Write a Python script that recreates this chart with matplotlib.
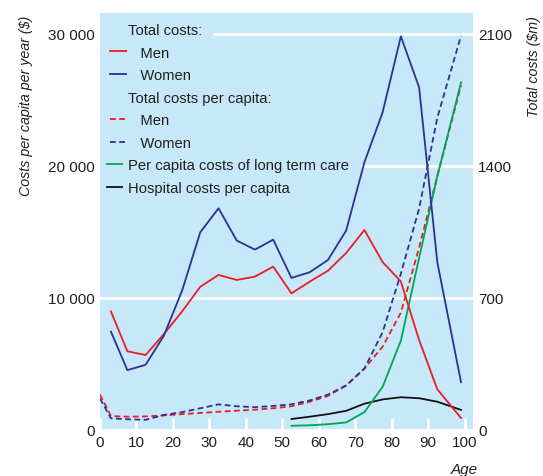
import matplotlib
matplotlib.use("Agg")
import matplotlib.pyplot as plt
from matplotlib.lines import Line2D
from matplotlib.legend_handler import HandlerLine2D
from matplotlib.path import Path
import matplotlib.patheffects as pe
import numpy as np

plt.rcParams['font.family'] = ['Liberation Sans', 'DejaVu Sans']

# ---------------- data ----------------
ages_total = [3, 7.5, 12.5, 17.5, 22.5, 27.5, 32.5, 37.5, 42.5, 47.5,
              52.5, 57.5, 62.5, 67.5, 72.5, 77.5, 82.5, 87.5, 92.5, 99]
# total costs ($m)
men_total = [627, 416, 396, 507, 627, 758, 821, 794, 812, 865,
             723, 785, 843, 937, 1059, 889, 786, 476, 214, 62]
women_total = [520, 316, 344, 498, 737, 1047, 1174, 1003, 955, 1008,
               805, 835, 900, 1056, 1418, 1683, 2086, 1816, 888, 252]

ages_pc = [0, 3, 7.5, 12.5, 17.5, 22.5, 27.5, 32.5, 37.5, 42.5, 47.5,
           52.5, 57.5, 62.5, 67.5, 72.5, 77.5, 82.5, 87.5, 92.5, 99]
# total costs per capita ($ per year)
men_pc = [2660, 1030, 985, 1005, 1085, 1180, 1270, 1360, 1440, 1515, 1625,
          1775, 2120, 2560, 3350, 4630, 6300, 8870, 13790, 19210, 26100]
women_pc = [2360, 865, 790, 750, 1115, 1330, 1625, 1920, 1775, 1705, 1800,
            1920, 2215, 2660, 3350, 4630, 7390, 11820, 16750, 23640, 29850]

ages_old = [52.5, 57.5, 62.5, 67.5, 72.5, 77.5, 82.5, 87.5, 92.5, 99]
ltc_pc = [295, 335, 415, 550, 1330, 3250, 6750, 13000, 19210, 26300]
hosp_pc = [810, 985, 1180, 1430, 1970, 2295, 2460, 2385, 2120, 1500]

x_ticks = [0, 10, 20, 30, 40, 50, 60, 70, 80, 90, 100]
left_ticks = [0, 10000, 20000, 30000]
left_labels = ['0', '10 000', '20 000', '30 000']
right_ticks = [0, 700, 1400, 2100]
right_labels = ['0', '700', '1400', '2100']

# ---------------- style ----------------
BG = '#c6e8f8'
RED = '#ec1c24'
NAVY = '#2e3192'
GREEN = '#00a651'
BLACK = '#111111'
TXT = '#231f20'
FS = 11
LFS = 10.6
LW = 1.3
DASH = (0, (3.2, 1.9))

W, H = 543, 477
fig = plt.figure(figsize=(W / 100, H / 100), dpi=100)
L, R, T, B = 100, 472.7, 14, 430.7
ax = fig.add_axes([L / W, 1 - B / H, (R - L) / W, (B - T) / H])
ax.set_facecolor(BG)
YMAX = 31570
ax.set_xlim(0, 102.2)
ax.set_ylim(0, YMAX)
for s in ax.spines.values():
    s.set_visible(False)
ax.set_axisbelow(True)
ax.yaxis.grid(True, color='white', lw=2)
ax.set_xticks(x_ticks)
ax.set_xticklabels([str(v) for v in x_ticks])
ax.tick_params(axis='x', direction='in', length=9, width=2, color='white',
               pad=4, labelsize=FS, labelcolor=TXT)
ax.set_yticks(left_ticks)
ax.set_yticklabels(left_labels)
ax.tick_params(axis='y', length=0, pad=4, labelsize=FS, labelcolor=TXT)

ax2 = ax.twinx()
ax2.set_ylim(0, YMAX * 0.07)
ax2.patch.set_visible(False)
for s in ax2.spines.values():
    s.set_visible(False)
ax2.set_yticks(right_ticks)
ax2.set_yticklabels(right_labels)
ax2.tick_params(axis='y', length=0, pad=4, labelsize=FS, labelcolor=TXT)

# per capita lines (left axis)
ax.plot(ages_pc, men_pc, color=RED, lw=LW, ls=DASH)
ax.plot(ages_pc, women_pc, color=NAVY, lw=LW, ls=DASH)
ax.plot(ages_old, hosp_pc, color=BLACK, lw=LW)
ax.plot(ages_old, ltc_pc, color=GREEN, lw=LW)
# total costs (right axis)
ax2.plot(ages_total, men_total, color=RED, lw=LW)
ax2.plot(ages_total, women_total, color=NAVY, lw=LW)

# axis labels
ax.set_ylabel('Costs per capita per year ($)', style='italic', fontsize=10.3, color=TXT)
ax.yaxis.set_label_coords(-0.18, 0.78)
ax2.set_ylabel('Total costs ($m)', style='italic', fontsize=10.3, color=TXT)
ax2.yaxis.set_label_coords(1.1465, 0.875)
ax.set_xlabel('Age', style='italic', fontsize=FS, color=TXT)
ax.xaxis.set_label_coords(0.977, -0.077)


# ---------------- legend ----------------
class LongHandle(HandlerLine2D):
    def create_artists(self, legend, orig_handle, xdescent, ydescent,
                       width, height, fontsize, trans):
        arts = super().create_artists(legend, orig_handle, xdescent, ydescent,
                                      width, height, fontsize, trans)
        for a in arts:
            x0 = -xdescent + 2.2
            yd = a.get_ydata()
            a.set_data([x0, x0 + 18], [yd[0], yd[0]])
        return arts


def make_box(lpad, rpad, tpad, bpad):
    def box(x0, y0, width, height, mutation_size):
        xa, xb = x0 - lpad, x0 + width + rpad
        ya, yb = y0 - bpad, y0 + height + tpad
        return Path([(xa, ya), (xb, ya), (xb, yb), (xa, yb), (xa, ya)],
                    [Path.MOVETO, Path.LINETO, Path.LINETO, Path.LINETO, Path.CLOSEPOLY])
    return box


cover = [pe.Stroke(linewidth=10, foreground=BG, capstyle='projecting'), pe.Normal()]
h_head1 = Line2D([], [], color='none')
h_men = Line2D([], [], color=RED, lw=LW)
h_women = Line2D([], [], color=NAVY, lw=LW)
h_head2 = Line2D([], [], color='none')
h_men_pc = Line2D([], [], color=RED, lw=LW, ls=DASH)
h_women_pc = Line2D([], [], color=NAVY, lw=LW, ls=DASH)
h_ltc = Line2D([], [], color=GREEN, lw=LW, path_effects=cover)
h_hosp = Line2D([], [], color=BLACK, lw=LW, path_effects=cover)

handles = [h_head1, h_men, h_women, h_head2, h_men_pc, h_women_pc, h_ltc, h_hosp]
labels = ['Total costs:', '   Men', '   Women', 'Total costs per capita:',
          '   Men', '   Women', 'Per capita costs of long term care',
          'Hospital costs per capita']
long_h = LongHandle()
leg = ax.legend(handles, labels, loc='upper left', bbox_to_anchor=(0.0188, 0.976),
                frameon=False, fontsize=LFS, handlelength=1.0, handletextpad=0.42,
                labelspacing=0.58, borderpad=0, borderaxespad=0,
                handler_map={h_men: long_h, h_women: long_h,
                             h_men_pc: long_h, h_women_pc: long_h})
for i, t in enumerate(leg.get_texts()):
    t.set_color(TXT)
    if i in (0, 3):
        t.set_bbox(dict(boxstyle=make_box(28, 11, 4, 5), facecolor=BG, edgecolor='none'))
    else:
        t.set_bbox(dict(boxstyle=make_box(1, 12, 4, 4), facecolor=BG, edgecolor='none'))

fig.savefig('out.png', dpi=100)
